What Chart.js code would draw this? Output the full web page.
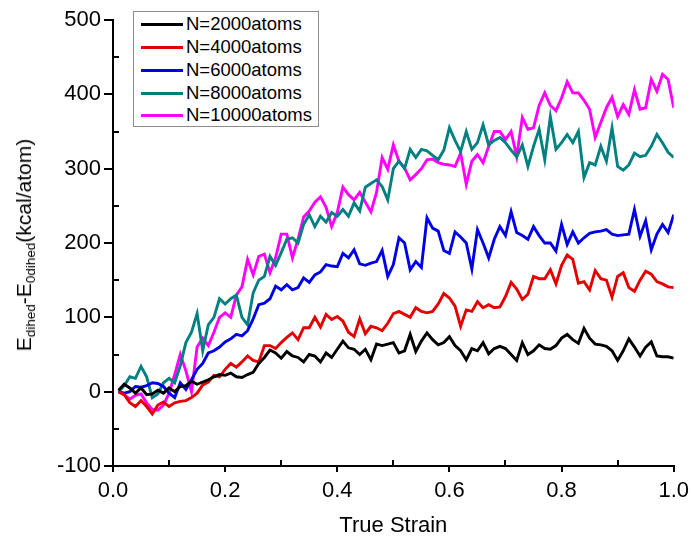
<!DOCTYPE html>
<html>
<head>
<meta charset="utf-8">
<script src="https://cdn.jsdelivr.net/npm/chart.js@4.4.1/dist/chart.umd.min.js"></script>
<style>
  body { margin: 0; background: #fff; font-family: "Liberation Sans", Arial, sans-serif; }
  #wrap { position: relative; width: 695px; height: 542px; }
  #ytitle {
    position: absolute; left: 25px; top: 245px;
    transform: translate(-50%, -50%) rotate(-90deg);
    white-space: nowrap; font-size: 21px; color: #000;
  }
  #ytitle sub { font-size: 13.5px; vertical-align: -4px; }
  #legend {
    position: absolute; left: 133px; top: 11px; width: 184px; height: 114px;
    border: 1px solid #8c8c8c; background: #fff;
  }
  .row { position: absolute; left: 0; height: 22px; font-size: 18.5px; line-height: 22px; color: #000; }
  .row span.ln { position: absolute; left: 7px; top: 10px; width: 42px; height: 3px; }
  .row span.tx { position: absolute; left: 52px; top: 0; white-space: nowrap; }
</style>
</head>
<body>
<div id="wrap">
  <canvas id="chart" width="695" height="542"></canvas>
  <div id="ytitle">E<sub>dihed</sub>-E<sub>0dihed</sub>(kcal/atom)</div>
  <div id="legend"></div>
</div>
<script>
// x values (true strain)
const strain = [0.01,0.02,0.03,0.04,0.05,0.06,0.07,0.08,0.09,0.10,
  0.11,0.12,0.13,0.14,0.15,0.16,0.17,0.18,0.19,0.20,
  0.21,0.22,0.23,0.24,0.25,0.26,0.27,0.28,0.29,0.30,
  0.31,0.32,0.33,0.34,0.35,0.36,0.37,0.38,0.39,0.40,
  0.41,0.42,0.43,0.44,0.45,0.46,0.47,0.48,0.49,0.50,
  0.51,0.52,0.53,0.54,0.55,0.56,0.57,0.58,0.59,0.60,
  0.61,0.62,0.63,0.64,0.65,0.66,0.67,0.68,0.69,0.70,
  0.71,0.72,0.73,0.74,0.75,0.76,0.77,0.78,0.79,0.80,
  0.81,0.82,0.83,0.84,0.85,0.86,0.87,0.88,0.89,0.90,
  0.91,0.92,0.93,0.94,0.95,0.96,0.97,0.98,0.99,1.00];

const n2000 = [2,10,5,-2,5,-4,-3,2,-2,5, 0,7,8,14,10,13,16,20,23,22,
  25,20,19,23,26,38,46,56,52,45, 54,48,46,40,50,48,40,52,46,57,
  68,59,57,50,57,43,64,62,64,66, 52,55,77,54,68,79,70,63,66,74,
  62,55,43,58,55,66,51,58,61,58, 50,42,66,50,55,63,58,57,62,72,
  77,70,65,85,72,64,63,61,55,42, 55,71,60,48,60,67,48,47,47,45];

const n4000 = [0,-4,-15,-20,-12,-20,-30,-18,-14,-20, -15,-13,-12,-8,-2,9,13,22,20,30,
  38,33,40,48,42,40,62,62,58,66, 73,79,70,86,86,100,87,104,97,101,
  95,80,74,98,78,88,86,82,92,105, 108,104,100,113,108,106,108,118,132,126,
  115,88,110,108,121,113,117,113,114,128, 147,138,124,131,155,152,152,164,145,170,
  184,178,146,148,137,163,152,150,127,155, 160,140,135,150,162,158,148,145,141,140];

const n6000 = [0,-2,0,7,6,8,12,11,7,-2, -8,12,3,16,30,38,52,55,60,67,
  71,77,75,82,98,117,119,125,142,137, 144,137,140,153,147,157,161,171,169,168,
  186,180,191,172,170,173,175,190,155,171, 207,200,164,175,167,234,220,216,190,186,
  215,208,200,165,218,200,180,205,222,210, 242,214,210,205,222,210,200,200,189,225,
  198,215,200,207,213,215,216,218,212,210, 211,212,245,209,230,191,212,225,214,238];

const n8000 = [0,8,20,18,34,20,-8,-3,12,18, 12,35,66,80,105,55,90,100,125,118,
  125,130,100,90,133,150,155,182,170,187, 205,207,200,225,238,222,236,228,241,236,
  245,236,254,243,275,280,285,276,258,300, 310,300,326,315,326,324,318,312,325,355,
  338,323,350,326,335,359,332,338,342,335, 325,316,332,303,330,353,312,370,326,335,
  346,335,350,288,308,305,330,310,355,303, 298,305,321,316,318,330,346,335,322,315];

const n10000 = [0,-4,-10,-5,-3,-15,-24,-25,-18,-2, 23,50,28,0,60,72,62,80,100,106,
  100,130,141,178,157,182,185,160,180,212, 212,180,205,235,243,255,262,248,222,241,
  275,265,258,268,255,242,268,315,299,332, 310,301,285,292,300,312,313,308,306,305,
  303,321,279,310,319,308,330,350,350,339, 350,316,369,353,355,385,402,385,378,395,
  417,402,402,392,380,342,362,382,396,370, 386,373,406,380,382,420,404,427,420,382];

const seriesNames = ["N=2000atoms", "N=4000atoms", "N=6000atoms", "N=8000atoms", "N=10000atoms"];
const seriesColors = ["#000000", "#e50000", "#0000e6", "#008080", "#ff00ff"];
const seriesValues = [n2000, n4000, n6000, n8000, n10000];

const yTicks = [-100, 0, 100, 200, 300, 400, 500];
const xTicks = [0.0, 0.2, 0.4, 0.6, 0.8, 1.0];

const datasets = seriesValues.map((vals, i) => ({
  label: seriesNames[i],
  data: vals.map((v, j) => ({ x: strain[j], y: v })),
  borderColor: seriesColors[i],
  backgroundColor: seriesColors[i],
  borderWidth: 2.9,
  pointRadius: 0,
  tension: 0,
  fill: false
}));

// small inward minor ticks, as in the original plot
const minorTicks = {
  id: "minorTicks",
  afterDraw(chart) {
    const ctx = chart.ctx, x = chart.scales.x, y = chart.scales.y;
    ctx.save();
    ctx.strokeStyle = "#000";
    ctx.lineWidth = 2;
    for (let v = -50; v < 500; v += 100) {
      const py = Math.round(y.getPixelForValue(v));
      ctx.beginPath(); ctx.moveTo(x.left, py); ctx.lineTo(x.left + 6, py); ctx.stroke();
    }
    for (let v = 0.1; v < 1; v += 0.2) {
      const px = Math.round(x.getPixelForValue(v));
      ctx.beginPath(); ctx.moveTo(px, y.bottom); ctx.lineTo(px, y.bottom - 6); ctx.stroke();
    }
    ctx.restore();
  }
};

Chart.defaults.font.family = '"Liberation Sans", Arial, sans-serif';
Chart.defaults.color = "#000";

new Chart("chart", {
  type: "line",
  data: { datasets: datasets },
  options: {
    responsive: false,
    animation: false,
    devicePixelRatio: 1,
    layout: { padding: { left: 50, right: 20, top: 20, bottom: 0 } },
    plugins: { legend: { display: false }, tooltip: { enabled: false } },
    scales: {
      x: {
        type: "linear",
        min: 0, max: 1,
        afterBuildTicks: s => { s.ticks = xTicks.map(v => ({ value: v })); },
        afterFit: s => { s.height = 76; },
        ticks: { font: { size: 22 }, color: "#000", padding: 6, callback: v => v.toFixed(1) },
        grid: { display: true, drawOnChartArea: false, drawTicks: true, tickLength: 6, color: "#000", lineWidth: 2 },
        border: { display: true, color: "#000", width: 2 },
        title: { display: true, text: "True Strain", font: { size: 22 }, color: "#000", padding: { top: 0, bottom: 3 } }
      },
      y: {
        min: -100, max: 500,
        afterBuildTicks: s => { s.ticks = yTicks.map(v => ({ value: v })); },
        afterFit: s => { s.width = 63; },
        ticks: { font: { size: 22 }, color: "#000", padding: 3 },
        grid: { display: true, drawOnChartArea: false, drawTicks: true, tickLength: 9, color: "#000", lineWidth: 2 },
        border: { display: true, color: "#000", width: 2 }
      }
    }
  },
  plugins: [minorTicks]
});

// legend box inside the plot, top-left
const legend = document.getElementById("legend");
const rowTops = [1, 24, 47, 70, 92];
seriesNames.forEach((name, i) => {
  const row = document.createElement("div");
  row.className = "row";
  row.style.top = rowTops[i] + "px";
  row.innerHTML = '<span class="ln" style="background:' + seriesColors[i] + '"></span><span class="tx">' + name + '</span>';
  legend.appendChild(row);
});
</script>
</body>
</html>
